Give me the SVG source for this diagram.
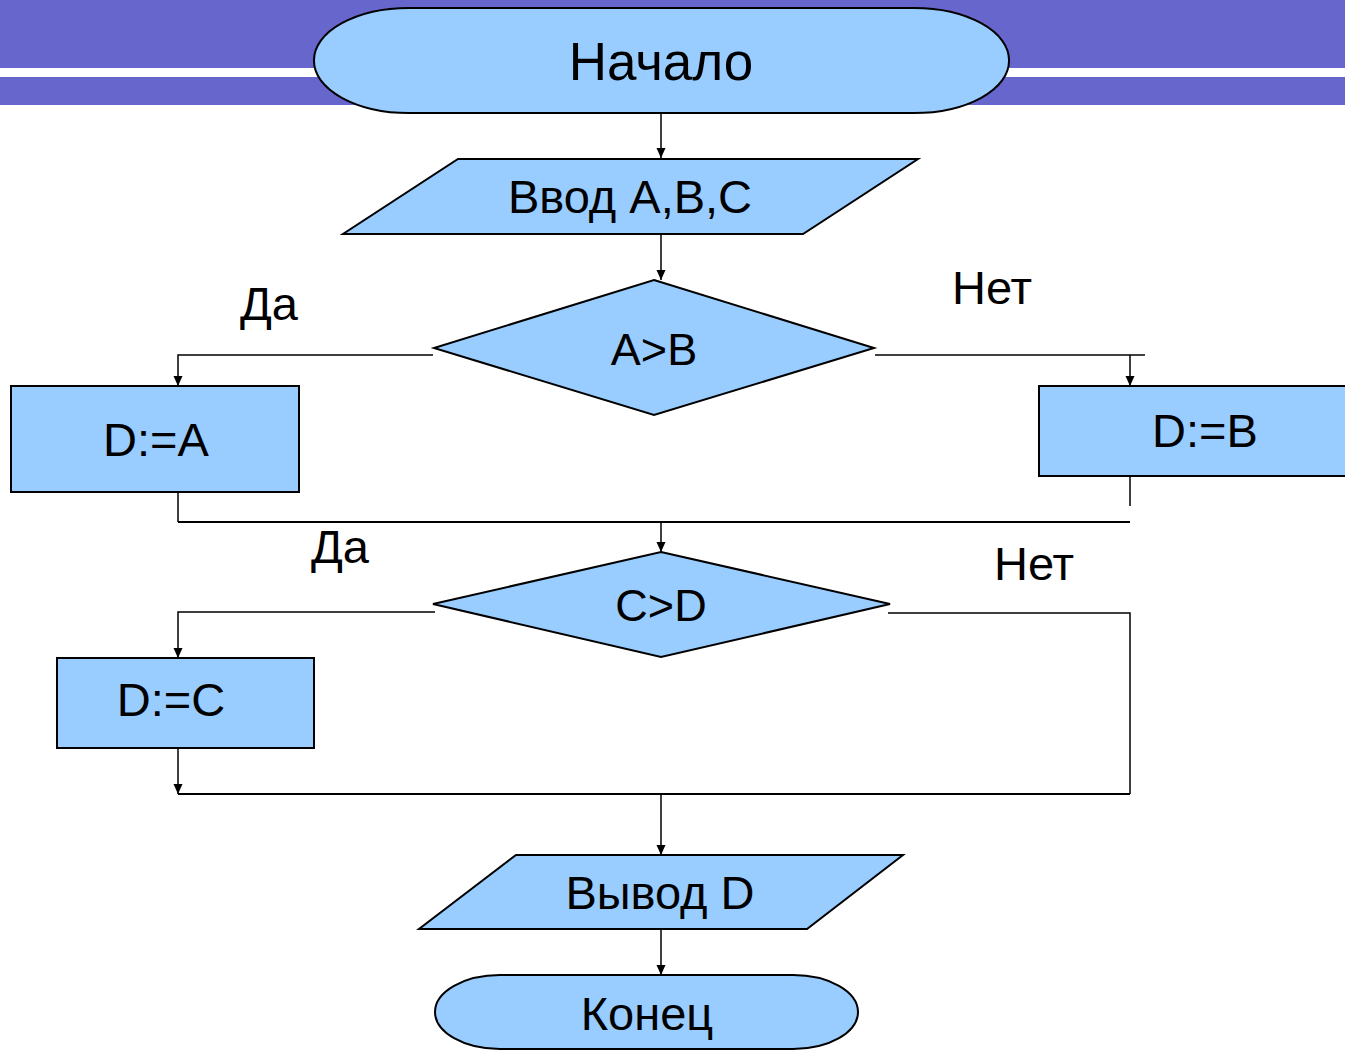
<svg xmlns="http://www.w3.org/2000/svg" width="1345" height="1050" viewBox="0 0 1345 1050">
<defs>
<marker id="arr" viewBox="0 0 10 12" refX="10" refY="6" markerWidth="10" markerHeight="12" markerUnits="userSpaceOnUse" orient="auto">
<path d="M0,1.5 L10,6 L0,10.5 z" fill="#000"/>
</marker>
<style>
.shape{fill:#99CCFF;stroke:#000;stroke-width:2}
.t{font-family:"Liberation Sans",Arial,sans-serif;font-size:47px;fill:#000;text-anchor:middle}
.lbl{font-family:"Liberation Sans",Arial,sans-serif;font-size:47px;fill:#000}
.c{fill:none;stroke:#000;stroke-width:1.5}
.ct{fill:none;stroke:#000;stroke-width:2.2}
.a{marker-end:url(#arr)}
</style>
</defs>
<rect width="1345" height="1050" fill="#fff"/>
<g id="banner">
<rect x="0" y="0" width="1345" height="68" fill="#6666CC"/>
<rect x="0" y="77" width="1345" height="28" fill="#6666CC"/>
</g>
<g id="connectors">
<line class="c a" x1="661" y1="113" x2="661" y2="158"/>
<line class="c a" x1="661" y1="235" x2="661" y2="280"/>
<polyline class="c a" points="433,355 178,355 178,386"/>
<line class="c" x1="875" y1="355" x2="1145" y2="355"/>
<line class="c a" x1="1130" y1="355" x2="1130" y2="386"/>
<line class="c" x1="178" y1="492" x2="178" y2="522"/>
<line class="c" x1="1130" y1="476" x2="1130" y2="506"/>
<line class="ct" x1="178" y1="522" x2="1130" y2="522"/>
<line class="c a" x1="661" y1="522" x2="661" y2="552"/>
<polyline class="c a" points="435,612 178,612 178,658"/>
<polyline class="c" points="888,613 1130,613 1130,794"/>
<line class="c a" x1="178" y1="748" x2="178" y2="794"/>
<line class="ct" x1="178" y1="794" x2="1130" y2="794"/>
<line class="c a" x1="661" y1="794" x2="661" y2="855"/>
<line class="c a" x1="661" y1="929" x2="661" y2="975"/>
</g>
<g id="start">
<rect class="shape" x="314" y="8" width="695" height="105" rx="95" ry="52"/>
<text class="t" x="661" y="80" style="font-size:53px">Начало</text>
</g>
<g id="input">
<polygon class="shape" points="458,159 918,159 803,234 343,234"/>
<text class="t" x="630" y="213">Ввод A,B,C</text>
</g>
<g id="cond1">
<polygon class="shape" points="654,280 874,348 654,415 434,348"/>
<text class="t" x="654" y="365" style="font-size:45px">A&gt;B</text>
</g>
<g id="da">
<rect class="shape" x="11" y="386" width="288" height="106"/>
<text class="t" x="156" y="456">D:=A</text>
</g>
<g id="db">
<rect class="shape" x="1039" y="386" width="320" height="90"/>
<text class="t" x="1205" y="447">D:=B</text>
</g>
<g id="cond2">
<polygon class="shape" points="661,552 890,604 661,657 433,604"/>
<text class="t" x="661" y="621" style="font-size:45px">C&gt;D</text>
</g>
<g id="dc">
<rect class="shape" x="57" y="658" width="257" height="90"/>
<text class="t" x="171" y="716">D:=C</text>
</g>
<g id="output">
<polygon class="shape" points="516,855 903,855 807,929 419,929"/>
<text class="t" x="660" y="909">Вывод D</text>
</g>
<g id="end">
<rect class="shape" x="435" y="975" width="423" height="74" rx="65" ry="37"/>
<text class="t" x="647" y="1030">Конец</text>
</g>
<g id="labels">
<text class="lbl" x="240" y="320">Да</text>
<text class="lbl" x="952" y="304">Нет</text>
<text class="lbl" x="311" y="563">Да</text>
<text class="lbl" x="994" y="580">Нет</text>
</g>
</svg>
